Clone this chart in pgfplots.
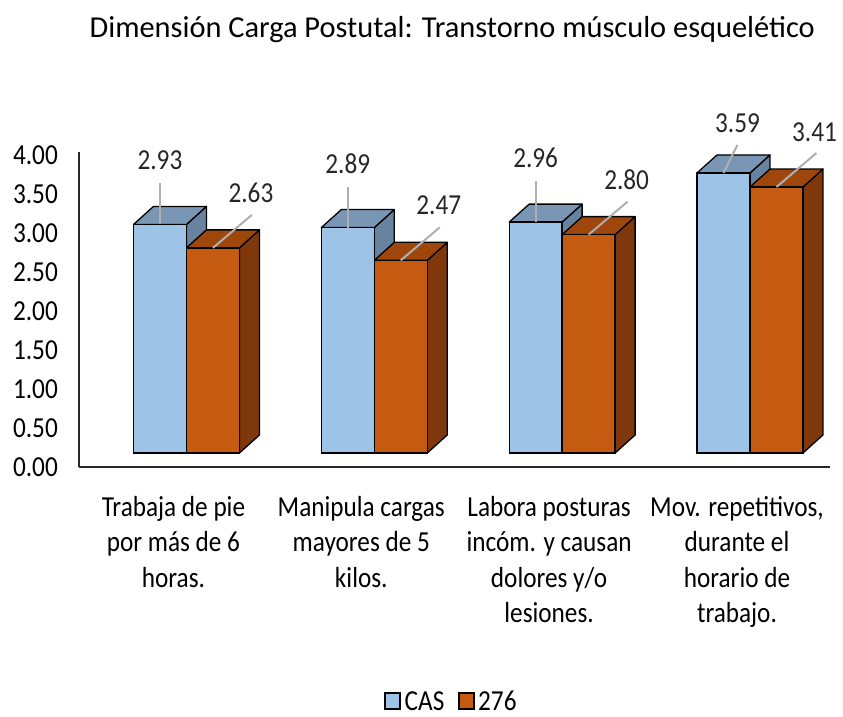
\documentclass[border=0pt]{standalone}
\usepackage{fontspec}
\setmainfont{Carlito}[FakeStretch=0.87]
\newfontfamily\titlefont{Carlito}
\usepackage{pgfplots}
\usepackage{pgfplotstable}
\pgfplotsset{compat=1.18}

\definecolor{casfront}{RGB}{157,195,230}
\definecolor{castop}{RGB}{122,150,181}
\definecolor{casside}{RGB}{103,131,160}
\definecolor{orfront}{RGB}{197,90,17}
\definecolor{ortop}{RGB}{158,70,12}
\definecolor{orside}{RGB}{126,56,12}
\definecolor{leader}{RGB}{175,175,175}
\definecolor{axline}{RGB}{40,40,40}

% values; label offsets (px) for value labels and leader lines
\pgfplotstableread{
x cas b276 clx cly cqx cqy olx oly oqx oqy
0 2.93 2.63 0 64 0 41 38 55 39 33
1 2.89 2.47 0 64 0 41 38 55 39 33
2 2.96 2.80 0 64 0 41 38 55 39 33
3 3.59 3.41 14 50 14 28 38 55 40 34
}\datatable

% depth faces of a 3D column: row, column, shift, top colour, side colour
\newcommand\cube[5]{%
  \pgfplotstablegetelem{#1}{x}\of\datatable \let\cx\pgfplotsretval
  \pgfplotstablegetelem{#1}{#2}\of\datatable \let\cv\pgfplotsretval
  \pgfmathsetmacro\xl{\cx+(#3)-0.141}%
  \pgfmathsetmacro\xr{\cx+(#3)+0.141}%
  \pgfmathsetmacro\xlb{\xl+0.1065}%
  \pgfmathsetmacro\xrb{\xr+0.1065}%
  \pgfmathsetmacro\vb{\cv+0.2308}%
  \addplot[forget plot, fill=#5, draw=black, line width=1.3pt, line join=round]
    coordinates {(\xr,0) (\xrb,0.2308) (\xrb,\vb) (\xr,\cv)} -- cycle;
  \addplot[forget plot, fill=#4, draw=black, line width=1.3pt, line join=round]
    coordinates {(\xl,\cv) (\xlb,\vb) (\xrb,\vb) (\xr,\cv)} -- cycle;
}

\begin{document}
\begin{tikzpicture}
\begin{axis}[
  name=ax,
  scale only axis,
  width=751pt, height=315pt,
  xmin=-0.572, xmax=3.426,
  ymin=-0.1795, ymax=3.859,
  clip=false,
  axis lines*=left,
  axis line style={-, draw=axline, line width=2.2pt},
  major tick length=0pt,
  /pgf/number format/assume math mode=true,
  ytick={-0.1795,0.3205,0.8205,1.3205,1.8205,2.3205,2.8205,3.3205,3.8205},
  yticklabels={0.00,0.50,1.00,1.50,2.00,2.50,3.00,3.50,4.00},
  yticklabel style={anchor=east, inner sep=0pt, xshift=-21pt, font=\fontsize{29}{35}\selectfont},
  xtick={0,1,2,3},
  xticklabels={{Trabaja de pie\\por más de 6\\horas.},
               {Manipula cargas\\mayores de 5\\kilos.},
               {Labora posturas\\incóm. y causan\\dolores y/o\\lesiones.},
               {Mov. repetitivos,\\durante el\\horario de\\trabajo.}},
  xticklabel style={align=center, anchor=north, inner sep=0pt, yshift=-29pt, xshift=-13pt, font=\fontsize{29}{35.5}\selectfont},
  every axis title shift=0pt,
  title={Dimensión Carga Postutal: Transtorno músculo esquelético},
  title style={at={(axis description cs:0.497,1.362)}, anchor=base, inner sep=0pt, font=\titlefont\fontsize{30.4}{36}\selectfont},
  legend style={at={(axis description cs:0.497,-0.743)}, anchor=center, draw=none, fill=none,
    legend columns=2, font=\fontsize{29}{35}\selectfont, inner sep=0pt,
    nodes={inner sep=3.5pt, text depth=0pt},
    /tikz/every even column/.append style={column sep=10pt}},
]
% depth faces
\cube{0}{cas}{-0.141}{castop}{casside}
\cube{1}{cas}{-0.141}{castop}{casside}
\cube{2}{cas}{-0.141}{castop}{casside}
\cube{3}{cas}{-0.141}{castop}{casside}
\cube{0}{b276}{0.141}{ortop}{orside}
\cube{1}{b276}{0.141}{ortop}{orside}
\cube{2}{b276}{0.141}{ortop}{orside}
\cube{3}{b276}{0.141}{ortop}{orside}

% front faces
\addplot[ybar, bar width=0.282, bar shift=-0.141, fill=casfront, draw=black, line width=1.3pt,
  legend image code/.code={\draw[fill=casfront, draw=black, line width=1.8pt] (0pt,-8pt) rectangle (15pt,8pt);},
  point meta=y,
  visualization depends on={\thisrow{clx}\as\labx},
  visualization depends on={\thisrow{cly}\as\laby},
  nodes near coords={\pgfmathprintnumber[fixed,fixed zerofill,precision=2]{\pgfplotspointmeta}},
  every node near coord/.append style={anchor=center, inner sep=0pt, xshift=\labx pt-26.5pt, yshift=\laby pt,
     font=\fontsize{29}{35}\selectfont, text=black!85}]
  table[x=x, y=cas]{\datatable};
\addlegendentry{CAS}
\addplot[ybar, bar width=0.282, bar shift=0.141, fill=orfront, draw=black, line width=1.3pt,
  legend image code/.code={\draw[fill=orfront, draw=black, line width=1.8pt] (0pt,-8pt) rectangle (15pt,8pt);},
  point meta=y,
  visualization depends on={\thisrow{olx}\as\labx},
  visualization depends on={\thisrow{oly}\as\laby},
  nodes near coords={\pgfmathprintnumber[fixed,fixed zerofill,precision=2]{\pgfplotspointmeta}},
  every node near coord/.append style={anchor=center, inner sep=0pt, xshift=\labx pt+26.5pt, yshift=\laby pt,
     font=\fontsize{29}{35}\selectfont, text=black!85}]
  table[x=x, y=b276]{\datatable};
\addlegendentry{276}

% leader lines
\addplot[forget plot, draw=leader, line width=2pt,
  quiver={u=\thisrow{cqx}/187.85, v=\thisrow{cqy}/78}]
  table[x expr=\thisrow{x}-0.141, y=cas]{\datatable};
\addplot[forget plot, draw=leader, line width=2pt,
  quiver={u=\thisrow{oqx}/187.85, v=\thisrow{oqy}/78}]
  table[x expr=\thisrow{x}+0.141, y=b276]{\datatable};
\end{axis}
\pgfresetboundingbox
\path ([xshift=-79pt,yshift=-250pt]ax.south west) rectangle ([xshift=13pt,yshift=152pt]ax.north east);
\end{tikzpicture}
\end{document}
